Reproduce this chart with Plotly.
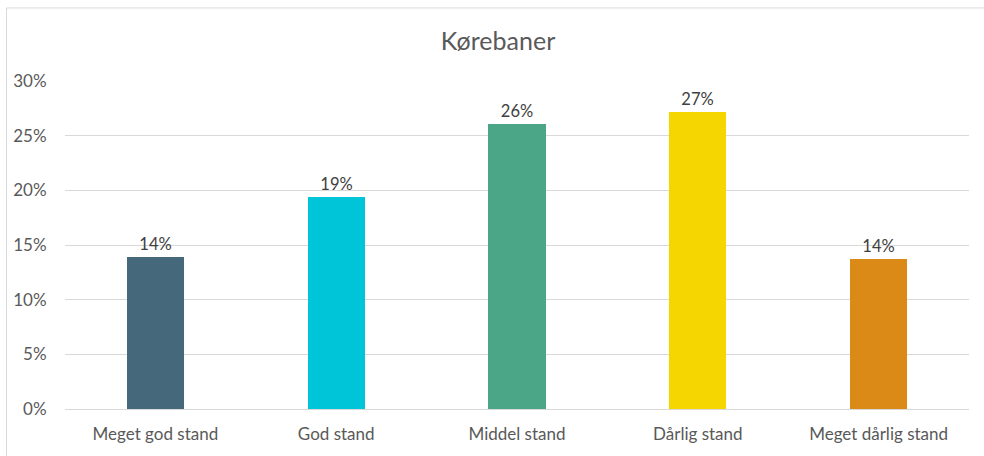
import plotly.graph_objects as go

categories = ["Meget god stand", "God stand", "Middel stand", "Dårlig stand", "Meget dårlig stand"]
values = [0.139, 0.194, 0.261, 0.272, 0.137]
colors = ["#46687B", "#00C5D8", "#4BA587", "#F6D600", "#DC8A17"]
y_ticks = [0, 0.05, 0.10, 0.15, 0.20, 0.25, 0.30]
y_tick_labels = ["0%", "5%", "10%", "15%", "20%", "25%", "30%"]
title_text = "Kørebaner"

FONT = "Lato, 'Open Sans', sans-serif"

fig = go.Figure(
    go.Bar(
        x=categories,
        y=values,
        marker=dict(color=colors, line=dict(width=0)),
        width=0.316,
        text=[f"{round(v*100):d}%" for v in values],
        textposition="outside",
        textfont=dict(family=FONT, size=16.5, color="#404040"),
        cliponaxis=False,
    )
)

L, R, T, B = 65, 15, 81, 45
W, H = 984, 456
pw, ph = W - L - R, H - T - B

def px_to_paper_x(px):
    return (px - L) / pw

def px_to_paper_y(py):
    return 1 - (py - T) / ph

fig.update_layout(
    width=W,
    height=H,
    margin=dict(l=L, r=R, t=T, b=B),
    paper_bgcolor="white",
    plot_bgcolor="white",
    showlegend=False,
    title=dict(
        text=title_text,
        x=498 / W,
        xanchor="center",
        y=1 - 41 / H,
        yanchor="middle",
        font=dict(family=FONT, size=25, color="#595959"),
    ),
    xaxis=dict(
        showgrid=False,
        showline=True,
        linecolor="#D9D9D9",
        linewidth=1,
        ticks="outside",
        ticklen=10,
        tickcolor="rgba(0,0,0,0)",
        tickfont=dict(family=FONT, size=17, color="#595959"),
        range=[-0.5, 4.5],
    ),
    yaxis=dict(
        range=[0, 0.30],
        tickvals=y_ticks,
        ticktext=y_tick_labels,
        showgrid=True,
        gridcolor="#D9D9D9",
        gridwidth=1,
        zeroline=False,
        showline=False,
        ticks="outside",
        ticklen=14,
        tickcolor="rgba(0,0,0,0)",
        tickfont=dict(family=FONT, size=17, color="#595959"),
    ),
    bargap=0,
    shapes=[
        dict(type="line", xref="paper", yref="paper",
             x0=px_to_paper_x(6.5), x1=px_to_paper_x(6.5),
             y0=px_to_paper_y(7.5), y1=px_to_paper_y(H + 5),
             line=dict(color="#D9D9D9", width=1)),
        dict(type="line", xref="paper", yref="paper",
             x0=px_to_paper_x(6.5), x1=px_to_paper_x(W + 5),
             y0=px_to_paper_y(7.5), y1=px_to_paper_y(7.5),
             line=dict(color="#D9D9D9", width=1)),
    ],
)

fig.write_html(
    "out.html",
    config={"displayModeBar": False},
    post_script="document.body.style.margin='0';document.body.style.overflow='hidden';",
)
